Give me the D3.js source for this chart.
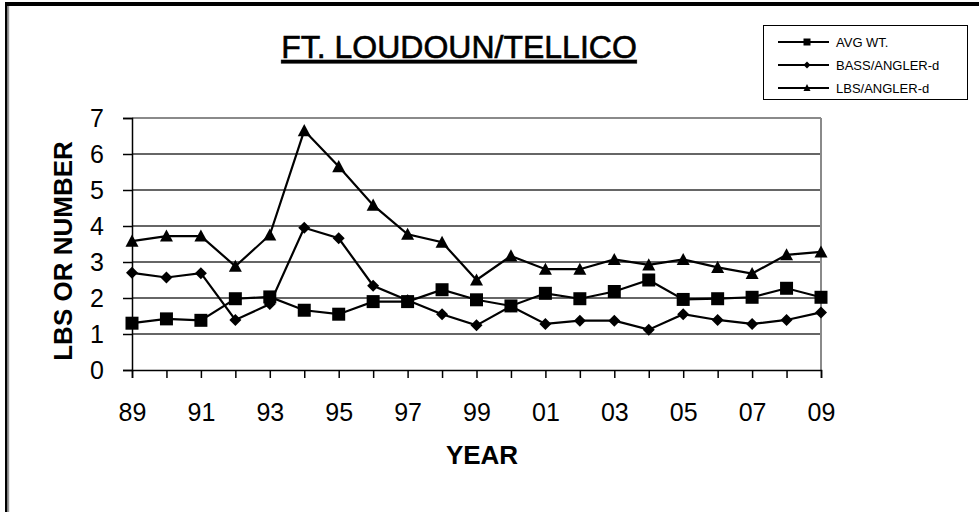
<!DOCTYPE html>
<html>
<head>
<meta charset="utf-8">
<script src="https://cdn.jsdelivr.net/npm/d3@7"></script>
<style>
  body { margin: 0; background: #fff; }
  text { font-family: "Liberation Sans", Arial, sans-serif; }
</style>
</head>
<body>
<script>
// values
let years = ["89","90","91","92","93","94","95","96","97","98","99","00","01","02","03","04","05","06","07","08","09"];
let avgWt = [1.3, 1.42, 1.38, 1.98, 2.03, 1.66, 1.55, 1.9, 1.9, 2.23, 1.95, 1.78, 2.13, 1.98, 2.18, 2.5, 1.96, 1.98, 2.02, 2.27, 2.02];
let bassAngler = [2.7, 2.57, 2.69, 1.39, 1.83, 3.95, 3.66, 2.34, 1.94, 1.55, 1.24, 1.77, 1.28, 1.37, 1.37, 1.12, 1.55, 1.39, 1.28, 1.39, 1.6];
let lbsAngler = [3.58, 3.72, 3.72, 2.88, 3.75, 6.65, 5.65, 4.58, 3.77, 3.55, 2.5, 3.17, 2.8, 2.8, 3.07, 2.92, 3.07, 2.85, 2.68, 3.2, 3.28];
let yTicks = [0, 1, 2, 3, 4, 5, 6, 7];

let series = [
    {name: "AVG WT.", values: avgWt, shape: "square"},
    {name: "BASS/ANGLER-d", values: bassAngler, shape: "diamond"},
    {name: "LBS/ANGLER-d", values: lbsAngler, shape: "triangle"}
];

let W = 979, H = 512;
let plot = {left: 132, right: 821, top: 118, bottom: 370};

let svg = d3.select("body").append("svg")
    .attr("width", W)
    .attr("height", H);

// frame
svg.append("rect").attr("x", 5).attr("y", 2).attr("width", W - 5).attr("height", 4).attr("fill", "#000");
svg.append("rect").attr("x", 5).attr("y", 2).attr("width", 2.5).attr("height", H).attr("fill", "#000");
svg.append("rect").attr("x", 8).attr("y", 6).attr("width", 1.2).attr("height", H).attr("fill", "#999");

let x = d3.scalePoint()
    .domain(years)
    .range([plot.left, plot.right]);

let y = d3.scaleLinear()
    .domain([0, 7])
    .range([plot.bottom, plot.top]);

// gridlines
svg.append("g").selectAll("line")
    .data(yTicks.filter(function(d) { return d > 0; }))
    .enter().append("line")
        .attr("x1", plot.left).attr("x2", plot.right)
        .attr("y1", function(d) { return y(d); })
        .attr("y2", function(d) { return y(d); })
        .attr("stroke", function(d) { return d == 7 ? "#8a8a8a" : "#333"; })
        .attr("stroke-width", function(d) { return d == 7 ? 2 : 1.5; });

// right edge of plot area
svg.append("line")
    .attr("x1", plot.right).attr("x2", plot.right)
    .attr("y1", plot.top).attr("y2", plot.bottom)
    .attr("stroke", "#8a8a8a").attr("stroke-width", 2);

// axes
let yAxis = svg.append("g")
    .attr("transform", "translate(" + plot.left + ",0)")
    .call(d3.axisLeft(y).tickValues(yTicks).tickSize(9).tickPadding(19)
        .tickFormat(d3.format("d")));

let xAxis = svg.append("g")
    .attr("transform", "translate(0," + plot.bottom + ")")
    .call(d3.axisBottom(x).tickSize(8).tickPadding(25)
        .tickFormat(function(d, i) { return i % 2 == 0 ? d : ""; }));

[yAxis, xAxis].forEach(function(ax) {
    ax.selectAll("path").attr("stroke", "#000").attr("stroke-width", 1.5);
    ax.selectAll("line").attr("stroke", "#000").attr("stroke-width", 1.5);
    ax.selectAll("text")
        .attr("fill", "#000")
        .style("font-size", "25px")
        .style("font-family", "Liberation Sans, Arial, sans-serif");
});

function markerPath(shape, s) {
    if (shape == "square") return d3.symbol().type(d3.symbolSquare).size(s * s)();
    if (shape == "diamond") {
        let r = s / 2;
        return "M0," + (-r) + "L" + r + ",0L0," + r + "L" + (-r) + ",0Z";
    }
    let h = s * 0.85;
    return "M0," + (-h / 2 - 1) + "L" + (s / 2) + "," + (h / 2) + "L" + (-s / 2) + "," + (h / 2) + "Z";
}

let line = d3.line()
    .x(function(d, i) { return x(years[i]); })
    .y(function(d) { return y(d); });

let markerSize = {square: 13, diamond: 12, triangle: 13};

series.forEach(function(s) {
    svg.append("path")
        .datum(s.values)
        .attr("d", line)
        .attr("fill", "none")
        .attr("stroke", "#000")
        .attr("stroke-width", 2.2);

    svg.append("g").selectAll("path")
        .data(s.values)
        .enter().append("path")
            .attr("transform", function(d, i) { return "translate(" + x(years[i]) + "," + y(d) + ")"; })
            .attr("d", markerPath(s.shape, markerSize[s.shape]))
            .attr("fill", "#000");
});

// title
svg.append("text")
    .text("FT. LOUDOUN/TELLICO")
    .attr("x", 459)
    .attr("y", 58)
    .attr("text-anchor", "middle")
    .attr("stroke", "#000")
    .attr("stroke-width", 0.6)
    .style("font-size", "32px")
    .style("text-decoration", "underline");

// axis titles
svg.append("text")
    .text("YEAR")
    .attr("x", 482)
    .attr("y", 464)
    .attr("text-anchor", "middle")
    .style("font-size", "26px")
    .style("font-weight", "bold");

svg.append("text")
    .text("LBS OR NUMBER")
    .attr("transform", "translate(72,251) rotate(-90)")
    .attr("text-anchor", "middle")
    .style("font-size", "26px")
    .style("font-weight", "bold");

// legend
let legend = svg.append("g");
legend.append("rect")
    .attr("x", 763.5).attr("y", 25.5)
    .attr("width", 204).attr("height", 74)
    .attr("fill", "#fff")
    .attr("stroke", "#000")
    .attr("stroke-width", 1);

let legendY = d3.scalePoint()
    .domain(series.map(function(d) { return d.name; }))
    .range([42, 88]);

series.forEach(function(s) {
    let ly = legendY(s.name);
    legend.append("line")
        .attr("x1", 778).attr("x2", 829)
        .attr("y1", ly).attr("y2", ly)
        .attr("stroke", "#000").attr("stroke-width", 2);
    legend.append("path")
        .attr("transform", "translate(807," + ly + ")")
        .attr("d", markerPath(s.shape, 7))
        .attr("fill", "#000");
    legend.append("text")
        .text(s.name)
        .attr("x", 836)
        .attr("y", ly + 4.5)
        .style("font-size", "13px");
});
</script>
</body>
</html>
